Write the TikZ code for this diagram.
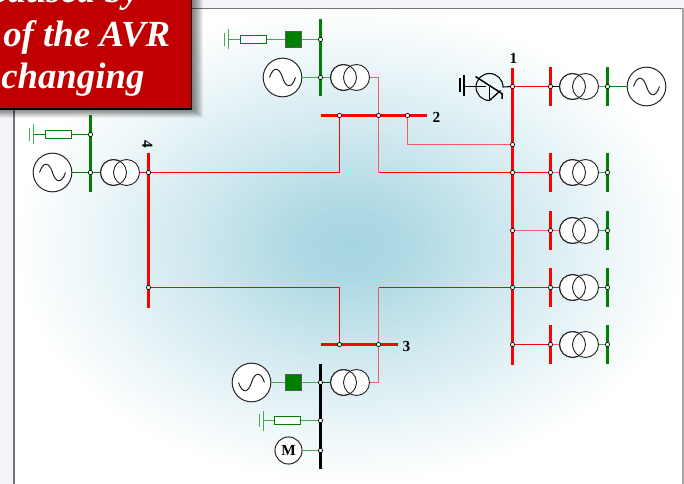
\documentclass[tikz,border=0pt]{standalone}
\usepackage{fontspec}
\setmainfont{Liberation Serif}
\definecolor{rbus}{RGB}{255,0,0}
\definecolor{gbus}{RGB}{0,128,0}
\definecolor{lgreen}{RGB}{70,170,85}
\definecolor{lred}{RGB}{248,90,100}
\definecolor{glow}{RGB}{166,213,225}
\definecolor{banner}{RGB}{192,0,0}
\definecolor{slide}{RGB}{243,243,250}
\pgfdeclareradialshading{glowshade}{\pgfpointorigin}{color(0bp)=(glow);color(3.6bp)=(glow!92!white);color(12.5bp)=(glow!50!white);color(20bp)=(glow!18!white);color(25bp)=(white);color(100bp)=(white)}
\tikzset{
  redbus/.style={rbus,line width=2.3pt},
  greenbus/.style={gbus,line width=2.5pt},
  mainbus/.style={line width=2.6pt},
  redwire/.style={draw=rbus,line width=0.8pt},
  softred/.style={draw=lred,line width=0.9pt},
  greenwire/.style={draw=gbus,line width=0.8pt},
  softgreen/.style={draw=lgreen,line width=0.9pt},
  dotn/.style={circle,draw=black,fill=white,line width=0.5pt,inner sep=0pt,minimum size=3.2pt},
  coil/.style={circle,draw=black!85,line width=0.7pt,inner sep=0pt,minimum size=19.5pt},
  gen/.style={circle,draw=black!85,fill=white,line width=0.75pt,inner sep=0pt,minimum size=29pt},
  res/.style={rectangle,draw=gbus,fill=white,line width=0.75pt,inner sep=0pt,minimum width=20pt,minimum height=6.6pt},
  sq/.style={rectangle,draw=black!65,fill=gbus,line width=0.9pt,inner sep=0pt,minimum size=11.6pt},
  lab/.style={font=\bfseries\fontsize{11.5}{13}\selectfont,inner sep=0pt},
  bantext/.style={white,anchor=base west,inner sep=0pt,font=\bfseries\itshape\fontsize{27.6}{30}\selectfont},
}
\newcommand{\xfmr}[3]{% name, x, y
  \node[coil,fill=white] (#1a) at (#2-10,#3) {};
  \node[coil,fill=white] (#1b) at (#2+3,#3) {};
  \node[coil] (#1c) at (#2-10,#3) {};
}
\newcommand{\sinewave}[3]{% x, y, direction
  \draw[black!85,line width=0.75pt] (#1-13,#2) .. controls (#1-9,#2-#3*12) and (#1-3,#2-#3*10) .. (#1,#2) .. controls (#1+3,#2+#3*10) and (#1+9,#2+#3*12) .. (#1+13,#2);
}
\newcommand{\earthv}[2]{% x, y
  \draw[lgreen,line width=0.8pt] (#1,#2-10) -- (#1,#2+10);
  \draw[lgreen,line width=0.8pt] (#1-4,#2-6.5) -- (#1-4,#2+6.5);
}
\begin{document}
\begin{tikzpicture}[x=0.75pt,y=-0.75pt]
\useasboundingbox (0,0) rectangle (684,484);
\fill[slide] (0,0) rectangle (684,484);
% panel
\begin{scope}
\clip (14,9) rectangle (683,484);
\fill[white] (14,9) rectangle (684,484);
\shade[shading=glowshade] (350,245) ellipse [x radius=338,y radius=240];
\end{scope}
\draw[black!55,line width=1.3pt] (14,484) -- (14,8.5) -- (683,8.5);
\draw[black!35,line width=0.9pt] (683,8.5) -- (683,484);
% banner shadow
\foreach \i in {0,1,...,12}
  \fill[black,opacity=0.055] (-5,-5) rectangle (191+\i,108+0.8*\i);
\filldraw[fill=banner,draw=black,line width=1.2pt] (-3,-3) rectangle (191.5,109);
\begin{scope}
\clip (0,0) rectangle (191,108);
\node[bantext] (t1) at (-9,3) {caused by};
\node[bantext] (t2) at (3,47) {of the AVR};
\node[bantext] (t3) at (1,89) {changing};
\end{scope}
\begin{scope}[shift={(0.5,0.5)}]
% junctions
\foreach \n/\x/\y in {
 a/512/86, b/550/86, c/607/86,
 d/512/144, e/512/172, f/550/172, g/607/172,
 h/512/230, i/550/230, j/607/230,
 k/512/287, l/550/287, m/607/287,
 n/512/344, o/550/344, p/607/344,
 q/339/115, r/378/115, s/407/115,
 t/148/172, u/148/287, v/339/344, w/378/344,
 x/320/39, y/320/77, z/90/134, aa/90/172,
 ab/320/382, ac/320/420, ad/320/450}
 {\coordinate (\n) at (\x,\y);}
% corner points
\coordinate (c1) at (339,172);
\coordinate (c2) at (378,172);
\coordinate (c3) at (407,144);
\coordinate (c4) at (339,287);
\coordinate (c5) at (378,287);
\coordinate (c6) at (378,382);
\coordinate (c7) at (378,77);
\coordinate (e1) at (228,39);
\coordinate (e2) at (33,134);
\coordinate (e3) at (263,420);
% transformers, machines
\xfmr{T1}{582}{86}
\xfmr{T2}{582}{172}
\xfmr{T3}{582}{230}
\xfmr{T4}{582}{287}
\xfmr{T5}{582}{344}
\xfmr{T6}{353}{77}
\xfmr{T7}{353}{382}
\xfmr{T8}{123}{172}
\node[gen] (G1) at (646,86) {}; \sinewave{646}{86}{1}
\node[gen] (G2) at (282,77) {}; \sinewave{282}{77}{1}
\node[gen] (G3) at (52,172) {}; \sinewave{52}{172}{1}
\node[gen] (G4) at (251,382) {}; \sinewave{251}{382}{-1}
\node[sq] (S1) at (293,39) {};
\node[sq] (S2) at (293,382) {};
\node[res] (R1) at (253,39) {};
\node[res] (R2) at (58,134) {};
\node[res] (R3) at (287,420) {};
\node[circle,draw=black!85,fill=white,line width=0.75pt,inner sep=0pt,minimum size=20.3pt,font=\bfseries\fontsize{11.5}{12}\selectfont] (M) at (288,450) {M};
% network wires
\draw[redwire] (t) -- (c1) -- (q);
\draw[softred] (r) -- (c2);
\draw[redwire] (c2) -- (e);
\draw[softred] (s) -- (c3) -- (d);
\draw[redwire] (u) -- (c4) -- (v);
\draw[softred] (w) -- (c5);
\draw[redwire] (c5) -- (k);
\draw[softred] (w) -- (c6) -- (T7b);
\draw[softred] (r) -- (c7) -- (T6b);
\draw[redwire] (a) -- (b);
\draw[redwire] (e) -- (f);
\draw[softred] (h) -- (i);
\draw[redwire] (k) -- (l);
\draw[redwire] (n) -- (o);
\draw[redwire] (t) -- (T8b);
\draw[black,line width=0.75pt] (b) -- (T1a);
\draw[softred] (f) -- (T2a);
\draw[softred] (i) -- (T3a);
\draw[redwire] (l) -- (T4a);
\draw[softred] (o) -- (T5a);
\draw[softgreen] (T1b) -- (c);
\draw[softgreen] (T2b) -- (g);
\draw[softgreen] (T3b) -- (j);
\draw[black!70,line width=0.75pt] (T4b) -- (m);
\draw[softgreen] (T5b) -- (p);
\draw[greenwire] (c) -- (G1);
\draw[greenwire] (G3) -- (aa);
\draw[greenwire] (aa) -- (T8a);
\draw[softgreen] (G2) -- (y);
\draw[softgreen] (y) -- (T6a);
\draw[softgreen] (G4) -- (S2);
\draw[softgreen] (S2) -- (ab);
\draw[gbus!70!black,line width=0.9pt] (ab) -- (T7a);
\draw[softgreen] (R1) -- (S1);
\draw[softgreen] (S1) -- (x);
\draw[greenwire] (R2) -- (z);
\draw[softgreen] (R3) -- (ac);
\draw[softgreen] (M) -- (ad);
\draw[softgreen] (e1) -- (R1);
\draw[greenwire] (e2) -- (R2);
\draw[softgreen] (e3) -- (R3);
\earthv{228}{39}
\earthv{33}{134}
\earthv{263}{420}
% buses
\draw[rbus,mainbus] (512,68) -- (512,364);
\foreach \y in {86,172,230,287,344} {
  \draw[redbus] (550,\y-19.5) -- (550,\y+19.5);
  \draw[greenbus] (607,\y-19.5) -- (607,\y+19.5);
}
\draw[rbus,mainbus] (320,115) -- (426,115);
\draw[rbus,mainbus] (320,344) -- (397,344);
\draw[rbus,mainbus] (148,153) -- (148,307);
\draw[gbus,mainbus] (320,19) -- (320,96);
\draw[gbus,mainbus] (90,115) -- (90,192);
\draw[black,mainbus] (320,363) -- (320,468.5);
% compensator (y axis points down, so angles run clockwise)
\coordinate (cA) at (489,100);
\draw[black,line width=0.8pt] (464,86) -- (485,86);
\draw[black,line width=0.8pt] (459.5,78) -- (459.5,92) (463.5,75) -- (463.5,96);
\draw[black,line width=0.8pt] (cA) arc[start angle=90,end angle=360,radius=13.5] -- (a);
\draw[black,line width=0.8pt] (cA) -- (489,87);
\draw[black,line width=1pt] (cA) -- (500,90);
\draw[black,line width=1.1pt] (475,76) -- (501.7,93.3) -- (501.7,98.5);
% junction dots
\foreach \n in {a,b,c,d,e,f,g,h,i,j,k,l,m,n,o,p,q,r,s,t,u,v,w,x,y,z,aa,ab,ac,ad}
  \node[dotn] (dot\n) at (\n) {};
% labels
\node[lab] (L1) at (513,58) {1};
\node[lab] (L2) at (436,116.5) {2};
\node[lab] (L3) at (406,345.5) {3};
\node[lab,rotate=-90] (L4) at (147,144) {4};
\end{scope}
\end{tikzpicture}
\end{document}
